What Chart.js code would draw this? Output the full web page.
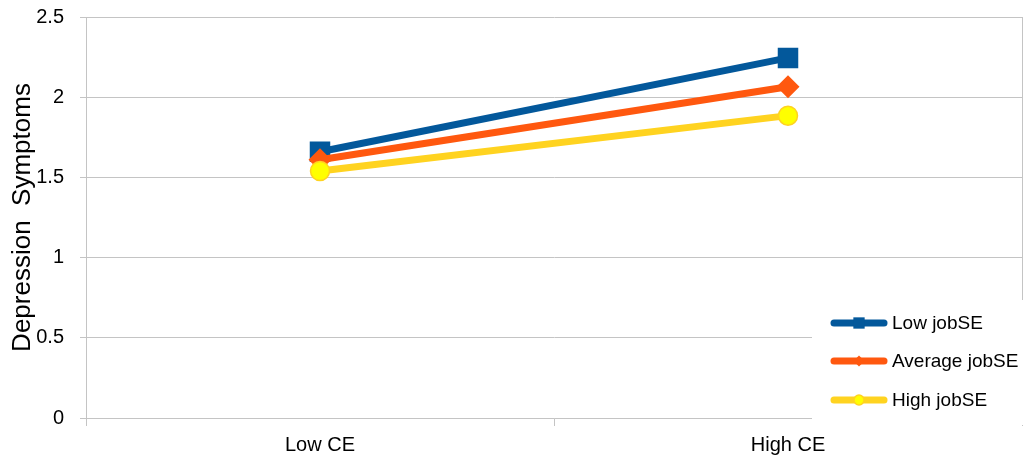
<!DOCTYPE html>
<html>
<head>
<meta charset="utf-8">
<script src="https://cdn.jsdelivr.net/npm/chart.js@4"></script>
<style>
  html, body { margin: 0; padding: 0; background: #fff; }
  #wrap { width: 1026px; height: 464px; }
</style>
</head>
<body>
<div id="wrap"><canvas id="myChart"></canvas></div>
<script>
const categories = ['Low CE', 'High CE'];
const seriesNames = ['Low jobSE', 'Average jobSE', 'High jobSE'];
const lowJobSE = [1.66, 2.245];
const avgJobSE = [1.61, 2.065];
const highJobSE = [1.54, 1.885];
const yTicks = [0, 0.5, 1, 1.5, 2, 2.5];

const gridGray = '#c4c4c4';
const font = "'Liberation Sans', Arial, sans-serif";

// later series sit on top (higher order is drawn first)
const data = {
  labels: categories,
  datasets: [{
    label: seriesNames[0],
    data: lowJobSE,
    order: 3,
    borderColor: '#03589b',
    backgroundColor: '#03589b',
    borderWidth: 7,
    pointStyle: 'rect',
    pointRadius: 14.5,
    pointBorderWidth: 0,
    legendRadius: 8
  }, {
    label: seriesNames[1],
    data: avgJobSE,
    order: 2,
    borderColor: '#ff580f',
    backgroundColor: '#ff580f',
    borderWidth: 7,
    pointStyle: 'rectRot',
    pointRadius: 11.5,
    pointBorderWidth: 0,
    legendRadius: 5.5
  }, {
    label: seriesNames[2],
    data: highJobSE,
    order: 1,
    borderColor: '#ffd320',
    backgroundColor: '#ffff00',
    borderWidth: 7,
    pointStyle: 'circle',
    pointRadius: 9.5,
    pointBorderWidth: 1.5,
    pointBorderColor: '#ffd320',
    legendRadius: 5
  }]
};

// legend box in the lower right corner, line + marker per series
const boxLegend = {
  id: 'boxLegend',
  afterDraw(chart) {
    const { ctx } = chart;
    ctx.save();
    ctx.fillStyle = '#fff';
    ctx.fillRect(812, 300, 214, 125);
    const rows = [323, 361, 400];
    chart.data.datasets.forEach((ds, i) => {
      const y = rows[i];
      ctx.strokeStyle = ds.borderColor;
      ctx.lineWidth = 7;
      ctx.lineCap = 'round';
      ctx.beginPath();
      ctx.moveTo(834, y);
      ctx.lineTo(884, y);
      ctx.stroke();
      ctx.fillStyle = ds.backgroundColor;
      ctx.strokeStyle = ds.pointBorderColor || ds.backgroundColor;
      ctx.lineWidth = ds.pointBorderWidth;
      Chart.helpers.drawPoint(ctx, {
        pointStyle: ds.pointStyle,
        radius: ds.legendRadius,
        rotation: 0,
        borderWidth: ds.pointBorderWidth
      }, 859, y);
      ctx.fillStyle = '#000';
      ctx.font = '19px ' + font;
      ctx.textBaseline = 'middle';
      ctx.textAlign = 'left';
      ctx.fillText(ds.label, 892, y + 1);
    });
    ctx.restore();
  }
};

const config = {
  type: 'line',
  data,
  options: {
    responsive: true,
    maintainAspectRatio: false,
    animation: false,
    layout: { autoPadding: false, padding: { top: 17, right: 4, left: 0, bottom: 0 } },
    plugins: {
      legend: { display: false },
      tooltip: { enabled: false }
    },
    scales: {
      x: {
        offset: true,
        grid: {
          offset: true,
          color: (c) => c.index === 1 ? 'rgba(0,0,0,0)' : gridGray,
          tickColor: gridGray,
          tickLength: 8,
          lineWidth: 1
        },
        border: { display: true, color: gridGray },
        ticks: { color: '#000', font: { family: font, size: 20 }, padding: 7 },
        afterFit(scale) {
          scale.height = 46;
          scale.paddingLeft = 0;
          scale.paddingRight = 0;
        }
      },
      y: {
        min: 0,
        max: 2.5,
        afterBuildTicks(scale) { scale.ticks = yTicks.map(v => ({ value: v })); },
        grid: { color: gridGray, tickColor: gridGray, tickLength: 6, lineWidth: 1 },
        border: { display: true, color: gridGray },
        ticks: {
          color: '#000',
          font: { family: font, size: 20 },
          padding: 16,
          callback: (v) => String(v)
        },
        title: {
          display: true,
          text: 'Depression  Symptoms',
          color: '#000',
          font: { family: font, size: 26 },
          padding: { top: 7, bottom: 0 }
        },
        afterFit(scale) {
          scale.width = 86;
          scale.paddingTop = 0;
          scale.paddingBottom = 0;
        }
      }
    }
  },
  plugins: [boxLegend]
};

const myChart = new Chart(document.getElementById('myChart'), config);
</script>
</body>
</html>
